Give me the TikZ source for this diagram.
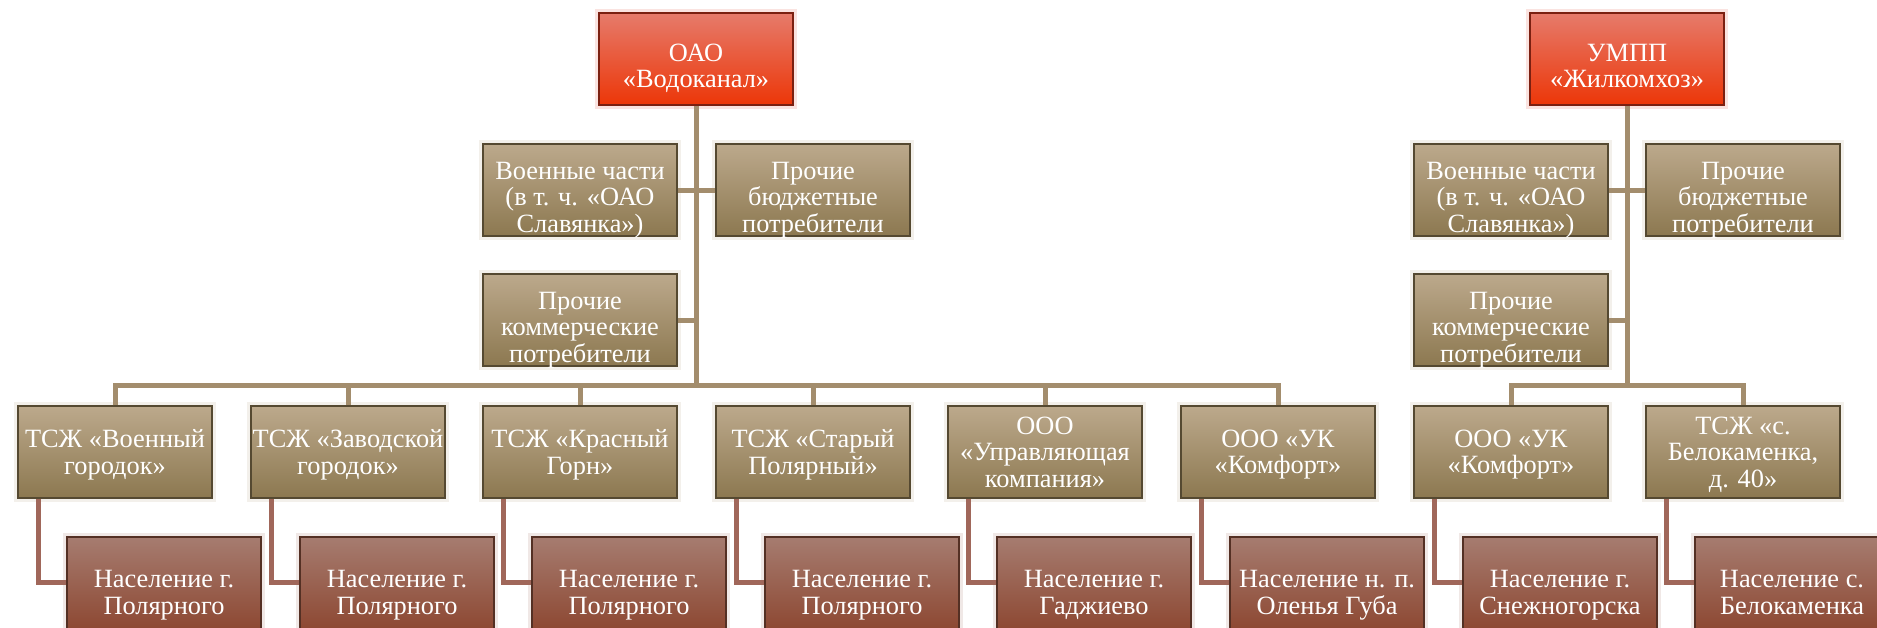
\documentclass[tikz,border=0pt]{standalone}
\usepackage{fontspec}
\setmainfont{Liberation Serif}
\usetikzlibrary{calc}
\definecolor{tanline}{HTML}{A38D6D}
\definecolor{rustline}{HTML}{A0675A}
\definecolor{headtop}{HTML}{E67B6B}
\definecolor{headmid}{HTML}{B02E18}
\definecolor{headbot}{HTML}{EC3608}
\definecolor{unittop}{HTML}{BCA98C}
\definecolor{unitmid}{HTML}{7A6846}
\definecolor{unitbot}{HTML}{8C7850}
\definecolor{poptop}{HTML}{A67C70}
\definecolor{popmid}{HTML}{784434}
\definecolor{popbot}{HTML}{8C4630}
\def\tp{\rule{0pt}{18pt}}
\tikzset{
	box/.style={minimum width=38.8mm, minimum height=18.4mm, inner sep=0pt, align=center,
		text=white, font=\fontsize{15}{15}\selectfont, line width=0.3mm, text depth=0pt},
	headbox/.style={box, draw=headmid!70!black, top color=headtop, middle color=headmid, bottom color=headbot,
		preaction={draw=headtop!30, line width=1.6mm, opacity=0.7}},
	unitbox/.style={box, draw=unitmid!70!black, top color=unittop, middle color=unitmid, bottom color=unitbot,
		preaction={draw=unittop!25, line width=1.6mm, opacity=0.7}},
	popbox/.style={box, minimum height=19.2mm, draw=popmid!70!black, top color=poptop, middle color=popmid, bottom color=popbot,
		preaction={draw=poptop!25, line width=1.6mm, opacity=0.7}},
	tanl/.style={line width=1mm, color=tanline},
	rustl/.style={line width=1mm, color=rustline}
}

\begin{document}
\begin{tikzpicture}[x=0.2mm, y=-0.2mm]
		%%%%% START %%%%%
		\clip (0, 0) rectangle (1877, 627);
		
		\node[headbox] (vodokanal) at (696, 59) {\tp ОАО\\«Водоканал»};
		\node[headbox] (zhilkom) at (1627, 59) {\tp УМПП\\«Жилкомхоз»};
		
		\node[unitbox] (voenn1) at (580, 190) {\tp Военные части\\(в т. ч. «ОАО\\Славянка»)};
		\node[unitbox] (budzh1) at (813, 190) {\tp Прочие\\бюджетные\\потребители};
		\node[unitbox] (komm1) at (580, 320) {\tp Прочие\\коммерческие\\потребители};
		
		\node[unitbox] (voenn2) at (1511, 190) {\tp Военные части\\(в т. ч. «ОАО\\Славянка»)};
		\node[unitbox] (budzh2) at (1743, 190) {\tp Прочие\\бюджетные\\потребители};
		\node[unitbox] (komm2) at (1511, 320) {\tp Прочие\\коммерческие\\потребители};
		
		\node[unitbox] (tsj1) at (115, 452) {ТСЖ «Военный\\городок»};
		\node[unitbox] (tsj2) at (348, 452) {ТСЖ «Заводской\\городок»};
		\node[unitbox] (tsj3) at (580, 452) {ТСЖ «Красный\\Горн»};
		\node[unitbox] (tsj4) at (813, 452) {ТСЖ «Старый\\Полярный»};
		\node[unitbox] (tsj5) at (1045, 452) {ООО\\«Управляющая\\компания»};
		\node[unitbox] (tsj6) at (1278, 452) {ООО «УК\\«Комфорт»};
		\node[unitbox] (tsj7) at (1511, 452) {ООО «УК\\«Комфорт»};
		\node[unitbox] (tsj8) at (1743, 452) {ТСЖ «с.\\Белокаменка,\\д. 40»};
		
		\node[popbox] (pop1) at (164, 585) {\tp Население г.\\Полярного};
		\node[popbox] (pop2) at (397, 585) {\tp Население г.\\Полярного};
		\node[popbox] (pop3) at (629, 585) {\tp Население г.\\Полярного};
		\node[popbox] (pop4) at (862, 585) {\tp Население г.\\Полярного};
		\node[popbox] (pop5) at (1094, 585) {\tp Население г.\\Гаджиево};
		\node[popbox] (pop6) at (1327, 585) {\tp Население н. п.\\Оленья Губа};
		\node[popbox] (pop7) at (1560, 585) {\tp Население г.\\Снежногорска};
		\node[popbox] (pop8) at (1792, 585) {\tp Население с.\\Белокаменка};
		
		\coordinate (busL) at (696, 385);
		\coordinate (busR) at (1627, 385);
		
		\draw[tanl] (vodokanal.south) -- (busL);
		\draw[tanl] (voenn1.east) -- (voenn1.east -| busL);
		\draw[tanl] (budzh1.west) -- (budzh1.west -| busL);
		\draw[tanl] (komm1.east) -- (komm1.east -| busL);
		\draw[tanl] (tsj1.north) |- (busL);
		\draw[tanl] (tsj2.north) |- (busL);
		\draw[tanl] (tsj3.north) |- (busL);
		\draw[tanl] (tsj4.north) |- (busL);
		\draw[tanl] (tsj5.north) |- (busL);
		\draw[tanl] (tsj6.north) |- (busL);
		
		\draw[tanl] (zhilkom.south) -- (busR);
		\draw[tanl] (voenn2.east) -- (voenn2.east -| busR);
		\draw[tanl] (budzh2.west) -- (budzh2.west -| busR);
		\draw[tanl] (komm2.east) -- (komm2.east -| busR);
		\draw[tanl] (tsj7.north) |- (busR);
		\draw[tanl] (tsj8.north) |- (busR);
		
		\draw[rustl] ([xshift=4.2mm]tsj1.south west) |- ([yshift=0.6mm]pop1.west);
		\draw[rustl] ([xshift=4.2mm]tsj2.south west) |- ([yshift=0.6mm]pop2.west);
		\draw[rustl] ([xshift=4.2mm]tsj3.south west) |- ([yshift=0.6mm]pop3.west);
		\draw[rustl] ([xshift=4.2mm]tsj4.south west) |- ([yshift=0.6mm]pop4.west);
		\draw[rustl] ([xshift=4.2mm]tsj5.south west) |- ([yshift=0.6mm]pop5.west);
		\draw[rustl] ([xshift=4.2mm]tsj6.south west) |- ([yshift=0.6mm]pop6.west);
		\draw[rustl] ([xshift=4.2mm]tsj7.south west) |- ([yshift=0.6mm]pop7.west);
		\draw[rustl] ([xshift=4.2mm]tsj8.south west) |- ([yshift=0.6mm]pop8.west);
		
		%%%%% END %%%%%
	\end{tikzpicture}
\end{document}
